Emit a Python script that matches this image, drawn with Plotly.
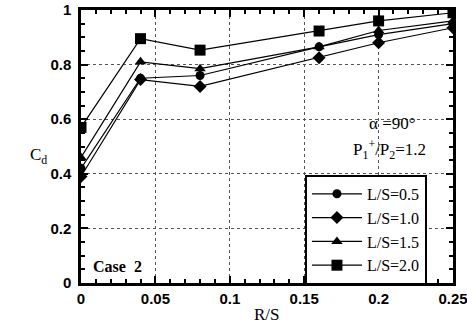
import plotly.graph_objects as go

rs = [0, 0.04, 0.08, 0.16, 0.20, 0.25]
cd_05 = [0.42, 0.75, 0.76, 0.865, 0.91, 0.95]
cd_10 = [0.39, 0.745, 0.72, 0.825, 0.88, 0.935]
cd_15 = [0.46, 0.81, 0.785, 0.865, 0.925, 0.96]
cd_20 = [0.57, 0.895, 0.853, 0.923, 0.96, 0.99]
names = ["L/S=0.5", "L/S=1.0", "L/S=1.5", "L/S=2.0"]
x_ticks = [0, 0.05, 0.1, 0.15, 0.2, 0.25]
x_ticktext = ["0", "0.05", "0.1", "0.15", "0.2", "0.25"]
y_ticks = [0, 0.2, 0.4, 0.6, 0.8, 1]
y_ticktext = ["0", "0.2", "0.4", "0.6", "0.8", "1"]

series = [cd_05, cd_10, cd_15, cd_20]
symbols = ["circle", "diamond", "triangle-up", "square"]
sizes = [9, 10, 10, 11]

fig = go.Figure()
for ys, nm, sym, sz in zip(series, names, symbols, sizes):
    fig.add_trace(go.Scatter(x=rs, y=ys, name=nm, mode="lines+markers",
                             line=dict(color="black", width=1.2),
                             marker=dict(symbol=sym, size=sz, color="black")))

tickfont = dict(family="Liberation Sans", size=15, color="black", weight="bold")
common = dict(showline=True, linewidth=2.5, linecolor="black", mirror="allticks",
              ticks="inside", ticklen=7, tickwidth=1.5, tickcolor="black",
              showgrid=True, gridcolor="#555", griddash="dot", gridwidth=1,
              zeroline=False, tickfont=tickfont, automargin=False,
              ticklabeloverflow="allow")

fig.update_xaxes(range=[0, 0.25], tickvals=x_ticks, ticktext=x_ticktext,
                 minor=dict(dtick=0.01, ticks="inside", ticklen=4, tickcolor="black", showgrid=False),
                 **common)
fig.update_yaxes(range=[0, 1], tickvals=y_ticks, ticktext=y_ticktext, ticklabelstandoff=4,
                 minor=dict(dtick=0.05, ticks="inside", ticklen=4, tickcolor="black", showgrid=False),
                 **common)

fig.add_annotation(x=0.5, y=-0.115, xref="paper", yref="paper", showarrow=False, yanchor="middle",
                   text="R/S", font=dict(family="Liberation Serif", size=17, color="black"))
fig.add_annotation(x=-0.142, y=0.465, xref="paper", yref="paper", showarrow=False,
                   text="C<sub>d</sub>", font=dict(family="Liberation Serif", size=17, color="black"))
fig.add_annotation(x=0.2265, y=0.585, xref="x", yref="y", showarrow=False, xanchor="right",
                   text="α =90°", font=dict(family="Liberation Serif", size=17, color="black"))
fig.add_annotation(x=0.2335, y=0.49, xref="x", yref="y", showarrow=False, xanchor="right",
                   text="P<sub>1</sub><sup>+</sup>/P<sub>2</sub>=1.2",
                   font=dict(family="Liberation Serif", size=17, color="black"))
fig.add_annotation(x=0.007, y=0.06, xref="x", yref="y", showarrow=False, xanchor="left",
                   text="<b>Case  2</b>", font=dict(family="Liberation Serif", size=16, color="black"))

fig.update_layout(
    width=467, height=325,
    margin=dict(l=81, r=14, t=10, b=42, autoexpand=False),
    paper_bgcolor="white", plot_bgcolor="white",
    showlegend=True,
    legend=dict(x=0.602, y=0.396, xanchor="left", yanchor="top",
                bgcolor="white", bordercolor="black", borderwidth=2,
                font=dict(family="Liberation Serif", size=16, color="black"),
                itemwidth=50, tracegroupgap=0),
)

fig.write_html("out.html")
